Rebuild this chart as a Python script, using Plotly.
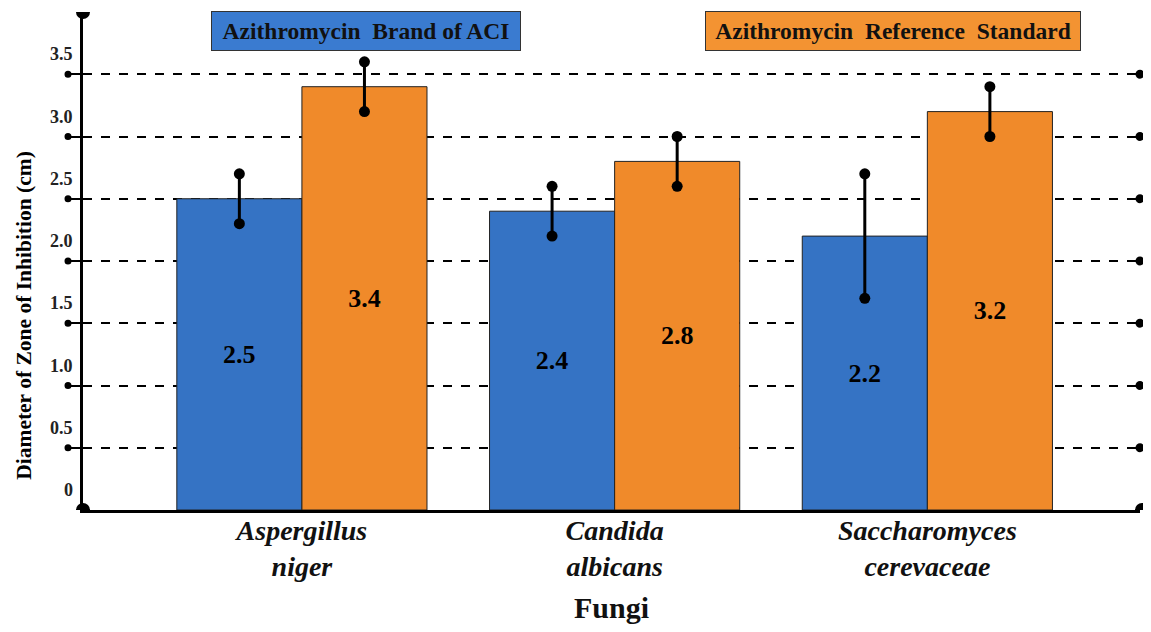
import plotly.graph_objects as go

categories = ["<b><i>Aspergillus</i></b><br><b><i>niger</i></b>", "<b><i>Candida</i></b><br><b><i>albicans</i></b>",
              "<b><i>Saccharomyces</i></b><br><b><i>cerevaceae</i></b>"]
cat_idx = [0, 1, 2]
brand_vals = [2.5, 2.4, 2.2]
brand_err = [0.2, 0.2, 0.5]
ref_vals = [3.4, 2.8, 3.2]
ref_err = [0.2, 0.2, 0.2]
ytick_vals = [0, 0.5, 1.0, 1.5, 2.0, 2.5, 3.0, 3.5]
ytick_text = ["0", "0.5", "1.0", "1.5", "2.0", "2.5", "3.0", "3.5"]
series_names = ["Azithromycin&nbsp;&nbsp;Brand of ACI", "Azithromycin&nbsp;&nbsp;Reference&nbsp;&nbsp;Standard"]

SERIF = "Liberation Serif, DejaVu Serif, serif"
BLUE = "#3573c4"
ORANGE = "#f08a2a"
BW = 0.4

fig = go.Figure()
for vals, errs, color, off in [(brand_vals, brand_err, BLUE, -BW), (ref_vals, ref_err, ORANGE, 0.0)]:
    fig.add_trace(go.Bar(
        x=cat_idx, y=vals, width=BW, offset=off,
        marker=dict(color=color, line=dict(color="#222222", width=1)),
        text=[f"<b>{v:.1f}</b>" for v in vals], textposition="inside", insidetextanchor="middle",
        textfont=dict(family=SERIF, size=26, color="black"),
        error_y=dict(type="data", array=errs, visible=True, color="black", thickness=3, width=0),
        showlegend=False, hoverinfo="skip", cliponaxis=False,
    ))
    xs = [i + off + BW / 2 for i in cat_idx]
    fig.add_trace(go.Scatter(
        x=xs + xs, y=[v + e for v, e in zip(vals, errs)] + [v - e for v, e in zip(vals, errs)],
        mode="markers", marker=dict(color="black", size=11), showlegend=False, hoverinfo="skip",
    ))

shapes = []
def dot(xpx_anchor, xpx, yval, r):
    return dict(type="circle", xref="paper", yref="y", xsizemode="pixel", ysizemode="pixel",
                xanchor=xpx_anchor, x0=xpx - r, x1=xpx + r, yanchor=yval, y0=-r, y1=r,
                fillcolor="black", line=dict(width=0), layer="above")

for v in ytick_vals[1:]:
    shapes.append(dot(0, -15, v, 3.5))
    shapes.append(dot(1, 0, v, 4.5))
shapes.append(dot(0, 0, 4.0, 7))
shapes.append(dot(0, 0, 0, 7))
shapes.append(dot(1, 2, 0, 7))

annotations = []
for v, t in zip(ytick_vals, ytick_text):
    annotations.append(dict(x=0, xref="paper", y=v, yref="y", text=f"<b>{t}</b>", showarrow=False,
                            xanchor="right", xshift=-8, yshift=20,
                            font=dict(family=SERIF, size=18, color="#222222")))
annotations.append(dict(x=0, xref="paper", y=0.39, yref="paper", text="<b>Diameter of Zone of Inhibition (cm)</b>",
                        showarrow=False, textangle=-90, xanchor="center", yanchor="middle", xshift=-59,
                        font=dict(family=SERIF, size=21.5, color="black")))
annotations.append(dict(x=0.2677, xref="paper", y=0.962, yref="paper", text=f"<b>{series_names[0]}</b>",
                        showarrow=False, xanchor="center", yanchor="middle",
                        bgcolor="#3a7bd0", bordercolor="#333333", borderwidth=1,
                        width=306, height=36, font=dict(family=SERIF, size=23.5, color="#111111")))
annotations.append(dict(x=0.7663, xref="paper", y=0.962, yref="paper", text=f"<b>{series_names[1]}</b>",
                        showarrow=False, xanchor="center", yanchor="middle",
                        bgcolor="#f39332", bordercolor="#333333", borderwidth=1,
                        width=372, height=36, font=dict(family=SERIF, size=23.5, color="#111111")))

fig.update_layout(
    width=1135, height=616,
    margin=dict(l=75, r=3, t=4, b=114, autoexpand=False),
    paper_bgcolor="white", plot_bgcolor="white",
    barmode="overlay",
    shapes=shapes, annotations=annotations,
    xaxis=dict(range=[-0.7, 2.68], tickvals=cat_idx, ticktext=categories, showgrid=False, zeroline=False,
               showline=True, linecolor="black", linewidth=3, ticks="", automargin=False,
               ticklabelstandoff=-7,
               tickfont=dict(family=SERIF, size=28, color="#111111"),
               title=dict(text="<b>Fungi</b>", font=dict(family=SERIF, size=30, color="#111111"), standoff=16)),
    yaxis=dict(range=[0, 4.0], tickvals=ytick_vals[1:], showticklabels=False, showgrid=True,
               gridcolor="black", griddash="dash", gridwidth=1.5, zeroline=False, automargin=False,
               showline=True, linecolor="black", linewidth=3,
               ticks="outside", ticklen=15, tickwidth=2, tickcolor="black"),
)

fig.write_html("out.html")
